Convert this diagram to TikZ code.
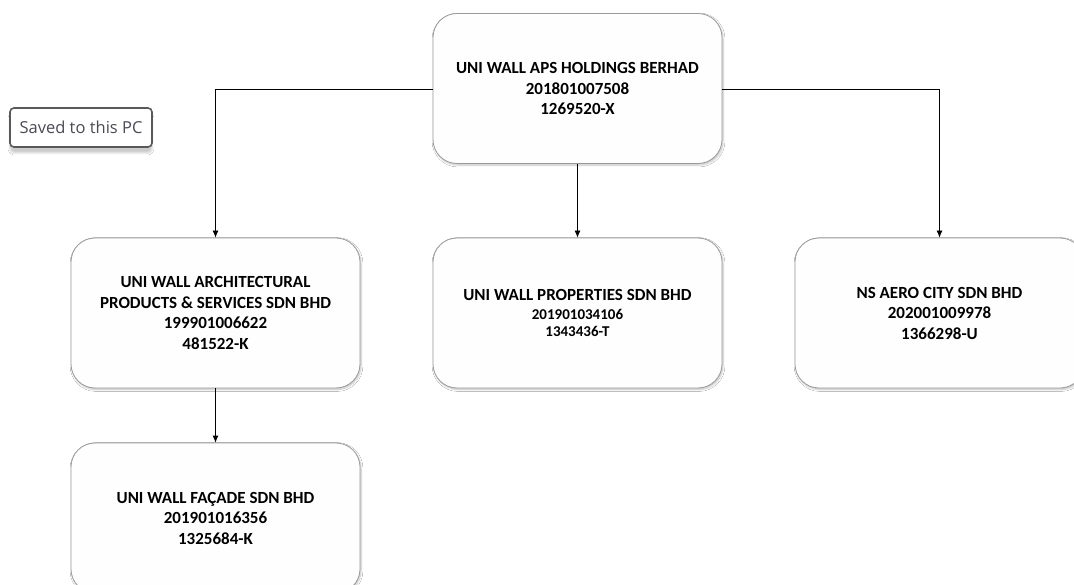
\documentclass[tikz,border=0pt]{standalone}
\usepackage{fontspec}
\setmainfont{Carlito}
\newfontfamily\uifont{Open Sans}
\usetikzlibrary{arrows.meta,shadows.blur}
\definecolor{boxline}{HTML}{9A9A9A}
\definecolor{boxfill}{HTML}{FEFEFE}
\definecolor{toasttext}{HTML}{4A4A55}
\begin{document}
\begin{tikzpicture}[x=1pt,y=-1pt,
  entity/.style={draw=boxline, line width=0.8pt, fill=boxfill, rounded corners=24pt,
    minimum width=289pt, minimum height=150pt, align=center, inner sep=0pt,
    font=\fontsize{17}{20.5}\selectfont\bfseries,
    blur shadow={shadow xshift=1pt, shadow yshift=-1.5pt, shadow blur steps=6, shadow opacity=25}},
  link/.style={draw=black, line width=0.8pt, -{Latex[length=7pt,width=6pt]}},
  toast/.style={draw=black!65, line width=1.6pt, fill=white, rounded corners=4pt,
    minimum width=142pt, minimum height=39pt, inner sep=0pt, text=toasttext,
    font=\uifont\fontsize{16.5}{18}\selectfont,
    blur shadow={shadow xshift=0pt, shadow yshift=-6pt, shadow blur steps=8, shadow opacity=20}}]
\useasboundingbox (0,0) rectangle (1074,585);
\fill[white] (0,0) rectangle (1074,585);

\node[entity] (top) at (577.5,88.5) {UNI WALL APS HOLDINGS BERHAD\\201801007508\\1269520-X};
\node[entity] (arch) at (215.5,313) {UNI WALL ARCHITECTURAL\\PRODUCTS \& SERVICES SDN BHD\\199901006622\\481522-K};
\node[entity] (prop) at (577.5,313) {UNI WALL PROPERTIES SDN BHD\\[-2pt]{\fontsize{15}{17}\selectfont 201901034106}\\[-3pt]{\fontsize{15}{17}\selectfont 1343436-T}};
\node[entity] (aero) at (939.5,313) {NS AERO CITY SDN BHD\\202001009978\\1366298-U};
\node[entity] (facade) at (215.5,518) {UNI WALL FAÇADE SDN BHD\\201901016356\\1325684-K};

\node[toast] (saved) at (81,127.5) {Saved to this PC};

\draw[link] (top.west |- 0,89) -| (arch.north);
\draw[link] (top.east |- 0,89) -| (aero.north);
\draw[link] (top.south) -- (prop.north);
\draw[link] (arch.south) -- (facade.north);
\end{tikzpicture}
\end{document}
